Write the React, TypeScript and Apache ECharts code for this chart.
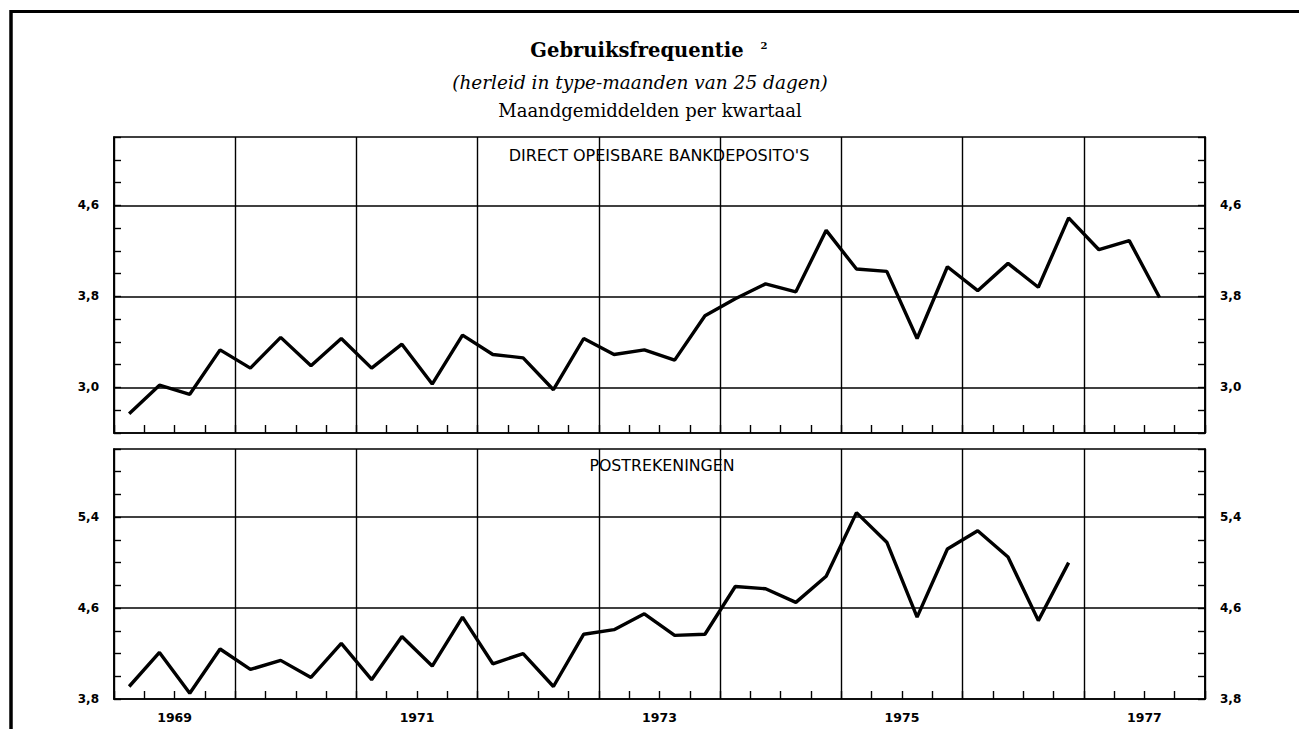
import React, { useEffect, useRef } from "react";
import * as echarts from "echarts";

// ---- data ----
const years = ["1969", "1970", "1971", "1972", "1973", "1974", "1975", "1976", "1977"];
const quarterNames = ["I", "II", "III", "IV"];

// Direct opeisbare bankdeposito's (quarterly, 1969-I .. 1977-III)
const bankDeposits = [
  2.77, 3.02, 2.94, 3.33, 3.17, 3.44, 3.19, 3.43, 3.17, 3.38, 3.03, 3.46,
  3.29, 3.26, 2.98, 3.43, 3.29, 3.33, 3.24, 3.63, 3.78, 3.91, 3.84, 4.38,
  4.04, 4.02, 3.43, 4.06, 3.85, 4.09, 3.88, 4.49, 4.21, 4.29, 3.79,
];

// Postrekeningen (quarterly, 1969-I .. 1976-IV)
const postAccounts = [
  3.91, 4.21, 3.85, 4.24, 4.06, 4.14, 3.99, 4.29, 3.97, 4.35, 4.09, 4.52,
  4.11, 4.2, 3.91, 4.37, 4.41, 4.55, 4.36, 4.37, 4.79, 4.77, 4.65, 4.88,
  5.44, 5.18, 4.52, 5.12, 5.28, 5.05, 4.49, 5.0,
];

const topLabelValues = [3.0, 3.8, 4.6];
const bottomLabelValues = [3.8, 4.6, 5.4];
const topGridValues = [3.0, 3.8, 4.6];
const bottomGridValues = [4.6, 5.4];

const titleText = "Gebruiksfrequentie";
const subtitleText = "(herleid in type-maanden van 25 dagen)";
const subtitle2Text = "Maandgemiddelden per kwartaal";
const topPanelLabel = "DIRECT OPEISBARE BANKDEPOSITO'S";
const bottomPanelLabel = "POSTREKENINGEN";

const quarters: string[] = [];
years.forEach((y) => quarterNames.forEach((q) => quarters.push(y + "-" + q)));

const fmt = (allowed: number[]) => (v: number) => {
  const r = Math.round(v * 10) / 10;
  return allowed.some((a) => Math.abs(a - r) < 1e-6) ? r.toFixed(1).replace(".", ",") : "";
};

export default function App() {
  const ref = useRef<HTMLDivElement>(null);
  useEffect(() => {
    if (!ref.current) return;
    const chart = echarts.init(ref.current, undefined, { renderer: "svg" });
    const tickFont = { fontFamily: "DejaVu Sans", fontWeight: "bold" as const, fontSize: 12, color: "#000" };
    const lineBlack = { color: "#000", width: 1.6 };

    const quarterAxis = (gridIndex: number) => ({
      type: "category" as const,
      gridIndex,
      data: quarters,
      boundaryGap: true,
      axisLine: { show: true, lineStyle: lineBlack },
      axisTick: { show: true, inside: true, interval: 0, length: 8, lineStyle: { color: "#000", width: 1.4 } },
      axisLabel: { show: false },
      splitLine: { show: true, interval: 3, lineStyle: { color: "#000", width: 1.4 } },
    });

    const valueAxis = (gridIndex: number, min: number, max: number, labels: number[], position: "left" | "right") => ({
      type: "value" as const,
      gridIndex,
      position,
      min,
      max,
      interval: 0.2,
      axisLine: { show: true, lineStyle: lineBlack },
      axisTick: { show: true, inside: true, length: 7, lineStyle: { color: "#000", width: 1.4 } },
      axisLabel: { show: true, formatter: fmt(labels), margin: 15, ...tickFont },
      splitLine: { show: false },
    });

    const markLineFor = (vals: number[]) => ({
      silent: true,
      symbol: ["none", "none"],
      label: { show: false },
      lineStyle: { color: "#000", type: "solid" as const, width: 1.5 },
      data: vals.map((v) => ({ yAxis: v })),
    });

    chart.setOption({
      animation: false,
      backgroundColor: "#fff",
      grid: [
        { left: 114, right: 94, top: 137, height: 296, show: true, borderColor: "#000", borderWidth: 1.6, backgroundColor: "transparent" },
        { left: 114, right: 94, top: 449, height: 250, show: true, borderColor: "#000", borderWidth: 1.6, backgroundColor: "transparent" },
      ],
      xAxis: [
        quarterAxis(0),
        quarterAxis(1),
        {
          type: "category",
          gridIndex: 1,
          data: years,
          boundaryGap: true,
          position: "bottom",
          axisLine: { show: false },
          axisTick: { show: false },
          splitLine: { show: false },
          axisLabel: { show: true, interval: 1, margin: 12, fontFamily: "DejaVu Sans", fontWeight: "bold", fontSize: 12.5, color: "#000" },
        },
      ],
      yAxis: [
        valueAxis(0, 2.6, 5.2, topLabelValues, "left"),
        valueAxis(0, 2.6, 5.2, topLabelValues, "right"),
        valueAxis(1, 3.8, 6.0, bottomLabelValues, "left"),
        valueAxis(1, 3.8, 6.0, bottomLabelValues, "right"),
      ],
      series: [
        {
          type: "line",
          name: topPanelLabel,
          xAxisIndex: 0,
          yAxisIndex: 0,
          data: bankDeposits,
          symbol: "none",
          lineStyle: { color: "#000", width: 3.4 },
          markLine: markLineFor(topGridValues),
          z: 5,
        },
        {
          type: "line",
          name: bottomPanelLabel,
          xAxisIndex: 1,
          yAxisIndex: 2,
          data: postAccounts,
          symbol: "none",
          lineStyle: { color: "#000", width: 3.4 },
          markLine: markLineFor(bottomGridValues),
          z: 5,
        },
      ],
      graphic: [
        { type: "line", shape: { x1: 11, y1: 11.5, x2: 1299, y2: 11.5 }, style: { stroke: "#000", lineWidth: 3 } },
        { type: "line", shape: { x1: 11, y1: 10, x2: 11, y2: 729 }, style: { stroke: "#000", lineWidth: 3.5 } },
        {
          type: "text",
          x: 637,
          y: 50,
          style: { text: titleText, font: "bold 19.5px 'DejaVu Serif'", fill: "#000", textAlign: "center", textVerticalAlign: "middle" },
        },
        {
          type: "text",
          x: 764,
          y: 45,
          style: { text: "2", font: "bold 10px 'DejaVu Serif'", fill: "#000", textAlign: "center", textVerticalAlign: "middle" },
        },
        {
          type: "text",
          x: 640,
          y: 82,
          style: { text: subtitleText, font: "italic 18.5px 'DejaVu Serif'", fill: "#000", textAlign: "center", textVerticalAlign: "middle" },
        },
        {
          type: "text",
          x: 650,
          y: 110,
          style: { text: subtitle2Text, font: "18px 'DejaVu Serif'", fill: "#000", textAlign: "center", textVerticalAlign: "middle" },
        },
        {
          type: "text",
          x: 659,
          y: 155,
          style: { text: topPanelLabel, font: "16px 'DejaVu Sans'", fill: "#000", textAlign: "center", textVerticalAlign: "middle" },
        },
        {
          type: "text",
          x: 662,
          y: 465,
          style: { text: bottomPanelLabel, font: "15.8px 'DejaVu Sans'", fill: "#000", textAlign: "center", textVerticalAlign: "middle" },
        },
      ],
    });
    return () => chart.dispose();
  }, []);
  return (
    <div
      ref={ref}
      style={{ position: "absolute", left: 0, top: 0, width: 1299, height: 729, background: "#fff" }}
    />
  );
}
